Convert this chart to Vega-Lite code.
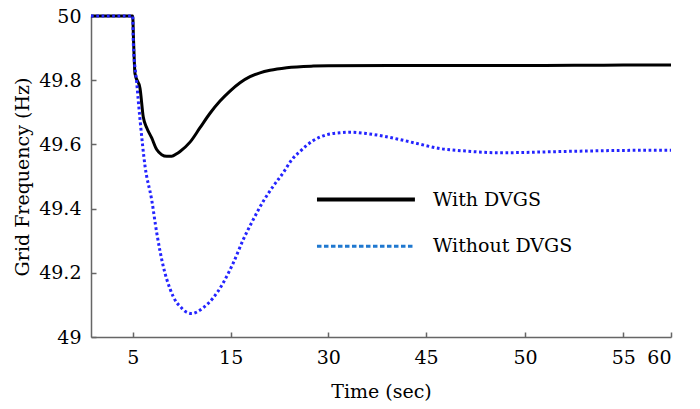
{
  "$schema": "https://vega.github.io/schema/vega-lite/v6.json",
  "width": 580,
  "height": 321,
  "autosize": "none",
  "padding": {"left": 91, "top": 16, "right": 29, "bottom": 72},
  "background": "white",
  "config": {
    "view": {"stroke": null},
    "font": "DejaVu Serif",
    "axis": {
      "labelFont": "DejaVu Serif",
      "titleFont": "DejaVu Serif",
      "labelFontSize": 19,
      "titleFontSize": 19,
      "titleFontWeight": "normal",
      "labelColor": "black",
      "titleColor": "black",
      "domainColor": "#666666",
      "domainWidth": 1.5,
      "tickColor": "#666666",
      "tickWidth": 1.5,
      "tickSize": -5,
      "grid": false
    }
  },
  "datasets": {
    "curves": [
      {"series": "With DVGS", "t": 0, "f": 50},
      {"series": "With DVGS", "t": 5, "f": 50},
      {"series": "With DVGS", "t": 5.08, "f": 49.93},
      {"series": "With DVGS", "t": 5.235, "f": 49.82},
      {"series": "With DVGS", "t": 5.745, "f": 49.775},
      {"series": "With DVGS", "t": 6.08, "f": 49.685},
      {"series": "With DVGS", "t": 6.43, "f": 49.652},
      {"series": "With DVGS", "t": 6.94, "f": 49.62},
      {"series": "With DVGS", "t": 7.45, "f": 49.584},
      {"series": "With DVGS", "t": 7.96, "f": 49.568},
      {"series": "With DVGS", "t": 8.47, "f": 49.563},
      {"series": "With DVGS", "t": 8.98, "f": 49.563},
      {"series": "With DVGS", "t": 9.49, "f": 49.571},
      {"series": "With DVGS", "t": 9.83, "f": 49.578},
      {"series": "With DVGS", "t": 10.85, "f": 49.607},
      {"series": "With DVGS", "t": 11.87, "f": 49.652},
      {"series": "With DVGS", "t": 12.89, "f": 49.697},
      {"series": "With DVGS", "t": 13.91, "f": 49.735},
      {"series": "With DVGS", "t": 14.93, "f": 49.766},
      {"series": "With DVGS", "t": 16.43, "f": 49.792},
      {"series": "With DVGS", "t": 17.97, "f": 49.811},
      {"series": "With DVGS", "t": 19.5, "f": 49.823},
      {"series": "With DVGS", "t": 21.04, "f": 49.831},
      {"series": "With DVGS", "t": 23.6, "f": 49.839},
      {"series": "With DVGS", "t": 27.7, "f": 49.844},
      {"series": "With DVGS", "t": 30, "f": 49.845},
      {"series": "With DVGS", "t": 45, "f": 49.846},
      {"series": "With DVGS", "t": 50, "f": 49.846},
      {"series": "With DVGS", "t": 55, "f": 49.847},
      {"series": "With DVGS", "t": 60, "f": 49.847},
      {"series": "Without DVGS", "t": 0, "f": 50},
      {"series": "Without DVGS", "t": 5, "f": 50},
      {"series": "Without DVGS", "t": 5.06, "f": 49.917},
      {"series": "Without DVGS", "t": 5.41, "f": 49.792},
      {"series": "Without DVGS", "t": 5.745, "f": 49.678},
      {"series": "Without DVGS", "t": 6.26, "f": 49.532},
      {"series": "Without DVGS", "t": 6.94, "f": 49.427},
      {"series": "Without DVGS", "t": 7.45, "f": 49.325},
      {"series": "Without DVGS", "t": 8.12, "f": 49.22},
      {"series": "Without DVGS", "t": 8.81, "f": 49.15},
      {"series": "Without DVGS", "t": 9.49, "f": 49.107},
      {"series": "Without DVGS", "t": 9.83, "f": 49.096},
      {"series": "Without DVGS", "t": 10.34, "f": 49.08},
      {"series": "Without DVGS", "t": 11.02, "f": 49.073},
      {"series": "Without DVGS", "t": 11.56, "f": 49.078},
      {"series": "Without DVGS", "t": 12.2, "f": 49.091},
      {"series": "Without DVGS", "t": 13.22, "f": 49.122},
      {"series": "Without DVGS", "t": 14.24, "f": 49.169},
      {"series": "Without DVGS", "t": 15.4, "f": 49.231},
      {"series": "Without DVGS", "t": 16.94, "f": 49.304},
      {"series": "Without DVGS", "t": 18.47, "f": 49.366},
      {"series": "Without DVGS", "t": 20.01, "f": 49.423},
      {"series": "Without DVGS", "t": 21.55, "f": 49.47},
      {"series": "Without DVGS", "t": 23.08, "f": 49.512},
      {"series": "Without DVGS", "t": 24.42, "f": 49.553},
      {"series": "Without DVGS", "t": 25.65, "f": 49.578},
      {"series": "Without DVGS", "t": 27.69, "f": 49.612},
      {"series": "Without DVGS", "t": 29.75, "f": 49.63},
      {"series": "Without DVGS", "t": 31.8, "f": 49.636},
      {"series": "Without DVGS", "t": 33.33, "f": 49.638},
      {"series": "Without DVGS", "t": 35.79, "f": 49.634},
      {"series": "Without DVGS", "t": 38.4, "f": 49.626},
      {"series": "Without DVGS", "t": 41.0, "f": 49.615},
      {"series": "Without DVGS", "t": 43.6, "f": 49.603},
      {"series": "Without DVGS", "t": 45.71, "f": 49.587},
      {"series": "Without DVGS", "t": 47.07, "f": 49.579},
      {"series": "Without DVGS", "t": 48.74, "f": 49.574},
      {"series": "Without DVGS", "t": 50, "f": 49.575},
      {"series": "Without DVGS", "t": 51.27, "f": 49.577},
      {"series": "Without DVGS", "t": 52.8, "f": 49.579},
      {"series": "Without DVGS", "t": 54.68, "f": 49.581},
      {"series": "Without DVGS", "t": 60, "f": 49.582}
    ],
    "legend": [
      {"series": "With DVGS", "x1": 28.26, "x2": 43.3, "y": 49.428, "tx": 45.35},
      {"series": "Without DVGS", "x1": 28.26, "x2": 43.3, "y": 49.283, "tx": 45.35}
    ]
  },
  "layer": [
    {
      "data": {"name": "curves"},
      "transform": [{"filter": "datum.series == 'With DVGS'"}],
      "mark": {"type": "line", "color": "black", "strokeWidth": 3, "interpolate": "monotone"},
      "encoding": {
        "x": {
          "field": "t", "type": "quantitative",
          "scale": {"domain": [0, 5, 15, 30, 45, 50, 55, 60], "range": [0, 41.7, 139.7, 237.3, 335, 434, 532.3, 580], "nice": false, "zero": false},
          "axis": {"values": [5, 15, 30, 45, 50, 55, 60], "title": "Time (sec)", "labelPadding": 16, "titlePadding": 15}
        },
        "y": {
          "field": "f", "type": "quantitative",
          "scale": {"domain": [49, 50], "nice": false, "zero": false},
          "axis": {"values": [49, 49.2, 49.4, 49.6, 49.8, 50], "format": "~f", "title": "Grid Frequency (Hz)", "labelPadding": 15, "titlePadding": 6}
        }
      }
    },
    {
      "data": {"name": "curves"},
      "transform": [{"filter": "datum.series == 'Without DVGS'"}],
      "mark": {"type": "line", "color": "#2424ff", "strokeWidth": 3, "strokeDash": [2.7, 2.6], "interpolate": "monotone"},
      "encoding": {
        "x": {"field": "t", "type": "quantitative"},
        "y": {"field": "f", "type": "quantitative"}
      }
    },
    {
      "data": {"name": "legend"},
      "transform": [{"filter": "datum.series == 'With DVGS'"}],
      "mark": {"type": "rule", "color": "black", "strokeWidth": 4},
      "encoding": {
        "x": {"field": "x1", "type": "quantitative"},
        "x2": {"field": "x2"},
        "y": {"field": "y", "type": "quantitative"}
      }
    },
    {
      "data": {"name": "legend"},
      "transform": [{"filter": "datum.series == 'Without DVGS'"}],
      "mark": {"type": "rule", "color": "#1f78d0", "strokeWidth": 3, "strokeDash": [4.5, 2.5]},
      "encoding": {
        "x": {"field": "x1", "type": "quantitative"},
        "x2": {"field": "x2"},
        "y": {"field": "y", "type": "quantitative"}
      }
    },
    {
      "data": {"name": "legend"},
      "mark": {"type": "text", "align": "left", "baseline": "middle", "font": "DejaVu Serif", "fontSize": 19, "color": "black"},
      "encoding": {
        "x": {"field": "tx", "type": "quantitative"},
        "y": {"field": "y", "type": "quantitative"},
        "text": {"field": "series"}
      }
    }
  ]
}
